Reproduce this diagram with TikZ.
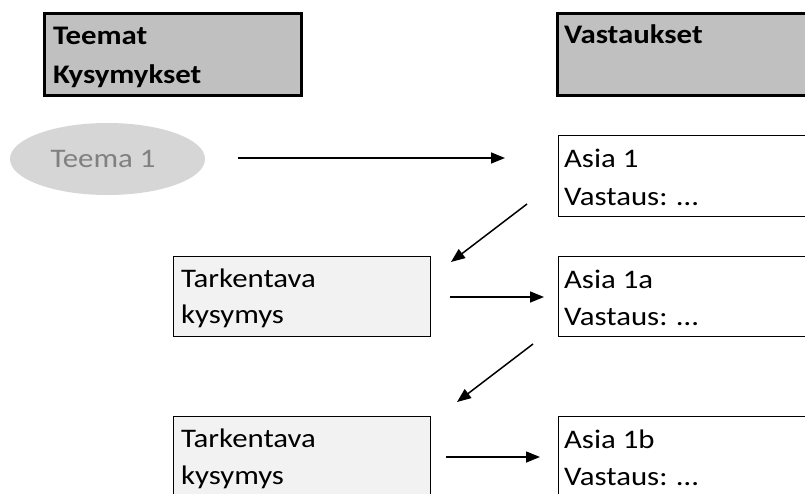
\documentclass[tikz,border=0pt]{standalone}
\usepackage{fontspec}
\setmainfont{Carlito}[FakeStretch=1.15]
\usetikzlibrary{arrows.meta,shapes.geometric}

\definecolor{headfill}{HTML}{C0C0C0}
\definecolor{askfill}{HTML}{F2F2F2}
\definecolor{themefill}{HTML}{D6D6D6}
\definecolor{themetext}{HTML}{808080}

\tikzset{
  headbox/.style={draw, line width=3pt, fill=headfill, rectangle, inner sep=0pt, outer sep=0pt,
    anchor=north west, minimum height=82pt},
  answerbox/.style={draw, line width=1.2pt, fill=white, rectangle, inner sep=0pt, outer sep=0pt,
    anchor=north west, minimum width=300pt},
  askbox/.style={draw, line width=1.2pt, fill=askfill, rectangle, inner sep=0pt, outer sep=0pt,
    anchor=north west, minimum width=257pt},
  txt/.style={anchor=base west, inner sep=0pt, outer sep=0pt, font=\fontsize{26.8}{30}\selectfont},
  headtxt/.style={txt, font=\fontsize{26.8}{30}\selectfont\bfseries},
  flow/.style={line width=1.5pt, -{Triangle[length=14pt,width=11pt]}},
}

\begin{document}
\begin{tikzpicture}[x=1pt, y=-1pt]
  \clip (0,0) rectangle (805,493);
  \fill[white] (0,0) rectangle (805,493);

  % column headers
  \node[headbox, minimum width=257pt] (hq) at (44.5,13.5) {};
  \node[headbox, minimum width=300pt] (ha) at (557.5,13.5) {};
  \node[headtxt] (hq1) at ([xshift=8.5pt,yshift=-30.5pt]hq.north west) {Teemat};
  \node[headtxt] (hq2) at ([xshift=8.5pt,yshift=-69.5pt]hq.north west) {Kysymykset};
  \node[headtxt] (ha1) at ([xshift=6.5pt,yshift=-29.5pt]ha.north west) {Vastaukset};

  % theme
  \node[ellipse, fill=themefill, minimum width=195pt, minimum height=72pt, inner sep=0pt] (theme) at (107.5,159) {};
  \node[txt, anchor=center, text=themetext] (themet) at ([xshift=-4.5pt]theme.center) {Teema 1};

  % answers
  \node[answerbox, minimum height=81pt] (a1) at (558.6,135.6) {};
  \node[txt] (a1l1) at ([xshift=5.5pt,yshift=-31.5pt]a1.north west) {Asia 1};
  \node[txt] (a1l2) at ([xshift=5.5pt,yshift=-69.5pt]a1.north west) {Vastaus: …};

  \node[answerbox, minimum height=80pt] (a2) at (558.6,256.6) {};
  \node[txt] (a2l1) at ([xshift=5.5pt,yshift=-31.5pt]a2.north west) {Asia 1a};
  \node[txt] (a2l2) at ([xshift=5.5pt,yshift=-68.5pt]a2.north west) {Vastaus: …};

  \node[answerbox, minimum height=100pt] (a3) at (558.6,416.6) {};
  \node[txt] (a3l1) at ([xshift=5.5pt,yshift=-31.5pt]a3.north west) {Asia 1b};
  \node[txt] (a3l2) at ([xshift=5.5pt,yshift=-68.5pt]a3.north west) {Vastaus: …};

  % follow-up questions
  \node[askbox, minimum height=80pt] (q1) at (173.6,256.6) {};
  \node[txt] (q1l1) at ([xshift=7.5pt,yshift=-30.5pt]q1.north west) {Tarkentava};
  \node[txt] (q1l2) at ([xshift=7.5pt,yshift=-66.5pt]q1.north west) {kysymys};

  \node[askbox, minimum height=100pt] (q2) at (173.6,416.6) {};
  \node[txt] (q2l1) at ([xshift=7.5pt,yshift=-30.5pt]q2.north west) {Tarkentava};
  \node[txt] (q2l2) at ([xshift=7.5pt,yshift=-67.5pt]q2.north west) {kysymys};

  % arrow end points
  \coordinate (t0) at (238,158);
  \coordinate (t1) at (505,158);
  \coordinate (d1s) at (527,204);
  \coordinate (d1e) at (451,262);
  \coordinate (r1s) at (450,297);
  \coordinate (r1e) at (544,297);
  \coordinate (d2s) at (533,344);
  \coordinate (d2e) at (457,402);
  \coordinate (r2s) at (446,457);
  \coordinate (r2e) at (540,457);

  \draw[flow] (t0) -- (t1);
  \draw[flow] (d1s) -- (d1e);
  \draw[flow] (r1s) -- (r1e);
  \draw[flow] (d2s) -- (d2e);
  \draw[flow] (r2s) -- (r2e);
\end{tikzpicture}
\end{document}
